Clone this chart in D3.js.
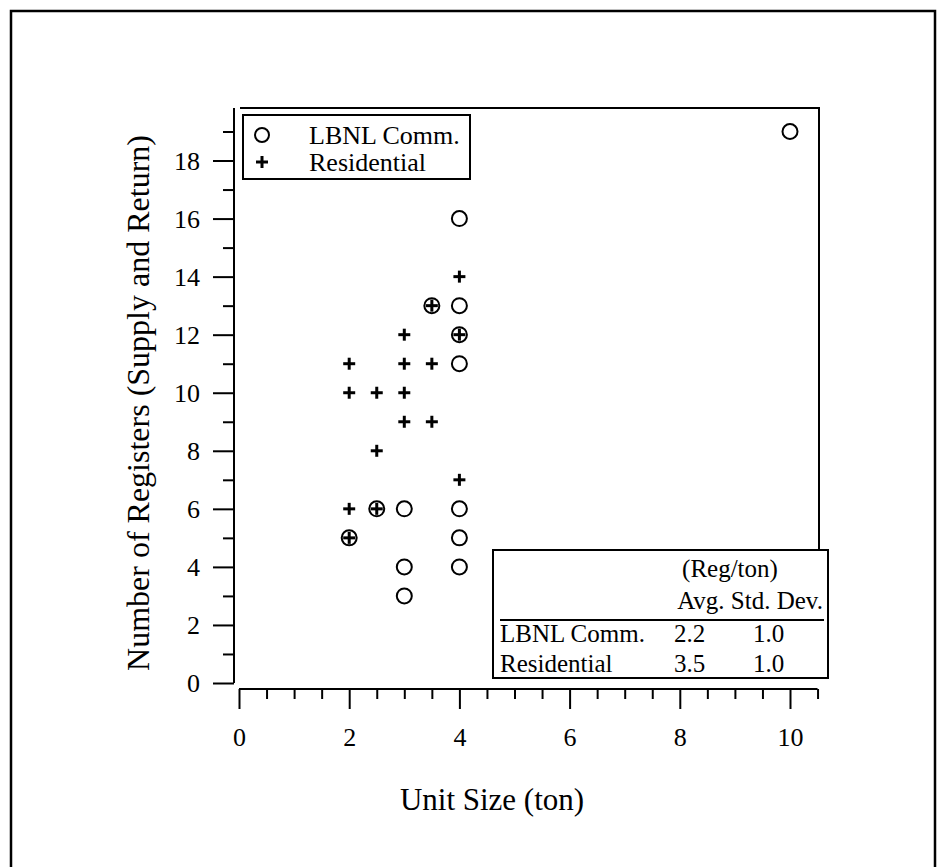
<!DOCTYPE html>
<html>
<head>
<meta charset="utf-8">
<script src="https://cdn.jsdelivr.net/npm/d3@7"></script>
<style>
  html, body { margin: 0; padding: 0; background: #fff; }
  svg { display: block; }
  text { font-family: "Liberation Serif", "Times New Roman", serif; fill: #000; }
</style>
</head>
<body>
<svg id="chart" width="938" height="867"></svg>
<script>
// ---- data ----
const commX = [2, 2.5, 3, 3, 3, 3.5, 4, 4, 4, 4, 4, 4, 4, 10];
const commY = [5, 6, 6, 4, 3, 13, 16, 13, 12, 11, 6, 5, 4, 19];
const resX = [2, 2, 2, 2, 2.5, 2.5, 2.5, 3, 3, 3, 3, 3.5, 3.5, 3.5, 4, 4, 4];
const resY = [11, 10, 6, 5, 10, 8, 6, 12, 11, 10, 9, 13, 11, 9, 14, 12, 7];
const seriesNames = ["LBNL Comm.", "Residential"];
const xTickValues = [0, 2, 4, 6, 8, 10];
const yTickValues = [0, 2, 4, 6, 8, 10, 12, 14, 16, 18];
const xLabel = "Unit Size (ton)";
const yLabel = "Number of Registers (Supply and Return)";
const tableUnit = "(Reg/ton)";
const tableHeader = "Avg. Std. Dev.";
const tableNames = ["LBNL Comm.", "Residential"];
const tableAvg = ["2.2", "3.5"];
const tableStd = ["1.0", "1.0"];

// ---- layout ----
const svg = d3.select("#chart");
const x = d3.scaleLinear().domain([0, 10]).range([239, 790]);
const y = d3.scaleLinear().domain([0, 19]).range([683, 131.5]);
const plotTop = 108, plotRight = 819, yAxisX = 234, xAxisY = 689;

// outer frame
svg.append("path")
  .attr("d", "M11,867 L11,11 L935,11 L935,867")
  .attr("fill", "none").attr("stroke", "#000").attr("stroke-width", 2.5);

// y axis
const yAxis = d3.axisLeft(y)
  .tickValues(d3.range(0, 20, 1))
  .tickSize(0)
  .tickFormat("");
const gy = svg.append("g").attr("transform", `translate(${yAxisX},0)`).call(yAxis);
gy.select(".domain").remove();
gy.selectAll(".tick line")
  .attr("x2", d => d % 2 === 0 ? -21 : -11)
  .attr("stroke", "#000").attr("stroke-width", 2);
gy.selectAll(".tick text")
  .text(d => yTickValues.includes(d) ? d : "")
  .attr("x", -34).attr("dy", "0.34em")
  .style("font-size", "26px").style("font-family", "'Liberation Serif', serif")
  .attr("fill", "#000");
svg.append("line").attr("x1", yAxisX).attr("x2", yAxisX)
  .attr("y1", plotTop).attr("y2", y(0))
  .attr("stroke", "#000").attr("stroke-width", 2);

// plot top and right borders
svg.append("path")
  .attr("d", `M240,${plotTop} L${plotRight},${plotTop} L${plotRight},550`)
  .attr("fill", "none").attr("stroke", "#000").attr("stroke-width", 2);

// x axis
const xAxis = d3.axisBottom(x)
  .tickValues(d3.range(0, 10.51, 0.5))
  .tickSize(0)
  .tickFormat("");
const gx = svg.append("g").attr("transform", `translate(0,${xAxisY})`).call(xAxis);
gx.select(".domain").remove();
gx.selectAll(".tick line")
  .attr("y2", d => Math.abs(d % 2) < 1e-9 ? 20 : 10)
  .attr("stroke", "#000").attr("stroke-width", 2);
gx.selectAll(".tick text")
  .text(d => xTickValues.includes(d) ? d : "")
  .attr("y", 0).attr("dy", 0)
  .attr("transform", "translate(0,57)")
  .style("font-size", "26px").style("font-family", "'Liberation Serif', serif")
  .attr("fill", "#000");
svg.append("line").attr("x1", x(0)).attr("x2", x(10.5))
  .attr("y1", xAxisY).attr("y2", xAxisY)
  .attr("stroke", "#000").attr("stroke-width", 2);

// axis titles
svg.append("text").attr("x", 492).attr("y", 810).attr("text-anchor", "middle")
  .style("font-size", "31px").text(xLabel);
svg.append("text").attr("transform", "translate(149,403) rotate(-90)")
  .attr("text-anchor", "middle").style("font-size", "32px").text(yLabel);

// markers
function plus(g, cx, cy, h) {
  g.append("line").attr("x1", cx - h).attr("x2", cx + h).attr("y1", cy).attr("y2", cy)
    .attr("stroke", "#000").attr("stroke-width", 3);
  g.append("line").attr("x1", cx).attr("x2", cx).attr("y1", cy - h).attr("y2", cy + h)
    .attr("stroke", "#000").attr("stroke-width", 3);
}
const marks = svg.append("g");
marks.selectAll("circle.comm").data(commX.map((v, i) => [v, commY[i]])).enter()
  .append("circle").attr("class", "comm")
  .attr("cx", d => x(d[0])).attr("cy", d => y(d[1])).attr("r", 7.5)
  .attr("fill", "none").attr("stroke", "#000").attr("stroke-width", 2);
resX.forEach((v, i) => plus(marks, x(v), y(resY[i]), 6));

// legend
const leg = svg.append("g");
leg.append("rect").attr("x", 243).attr("y", 115).attr("width", 227).attr("height", 64)
  .attr("fill", "#fff").attr("stroke", "#000").attr("stroke-width", 2);
leg.append("circle").attr("cx", 262).attr("cy", 135).attr("r", 7)
  .attr("fill", "none").attr("stroke", "#000").attr("stroke-width", 2);
plus(leg, 262, 162, 6);
leg.append("text").attr("x", 309).attr("y", 144).style("font-size", "26px").text(seriesNames[0]);
leg.append("text").attr("x", 309).attr("y", 171).style("font-size", "26px").text(seriesNames[1]);

// stats table
const tb = svg.append("g");
tb.append("rect").attr("x", 493).attr("y", 550).attr("width", 335).attr("height", 128)
  .attr("fill", "#fff").attr("stroke", "#000").attr("stroke-width", 2);
tb.append("text").attr("x", 730).attr("y", 577).attr("text-anchor", "middle")
  .style("font-size", "25px").text(tableUnit);
tb.append("text").attr("x", 823).attr("y", 609).attr("text-anchor", "end")
  .style("font-size", "25px").text(tableHeader);
tb.append("line").attr("x1", 500).attr("x2", 824).attr("y1", 620).attr("y2", 620)
  .attr("stroke", "#000").attr("stroke-width", 2);
[642, 672].forEach((by, i) => {
  tb.append("text").attr("x", 500).attr("y", by).style("font-size", "25px").text(tableNames[i]);
  tb.append("text").attr("x", 674).attr("y", by).style("font-size", "25px").text(tableAvg[i]);
  tb.append("text").attr("x", 753).attr("y", by).style("font-size", "25px").text(tableStd[i]);
});
</script>
</body>
</html>
